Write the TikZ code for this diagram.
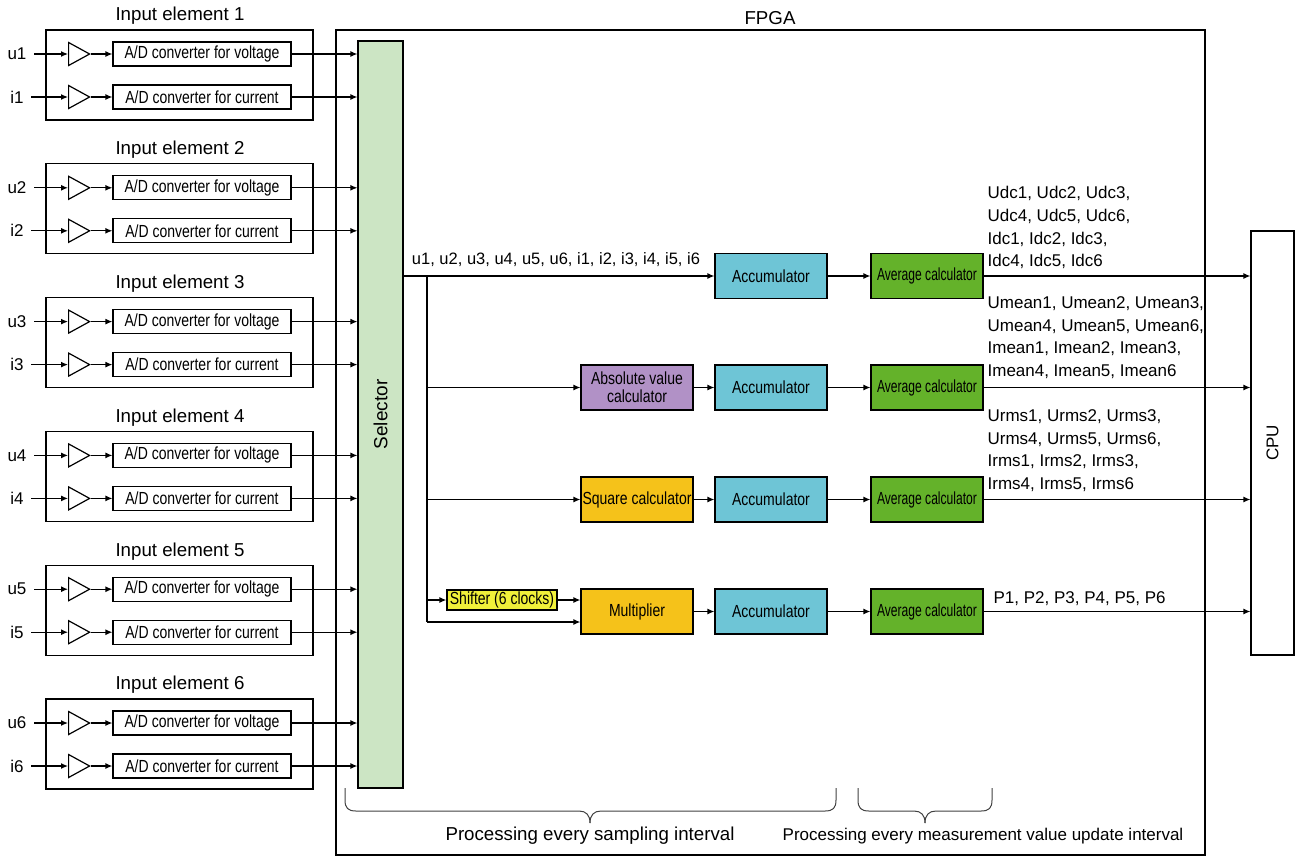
\documentclass[tikz,border=0pt]{standalone}
\usepackage{fontspec}
\setmainfont{Liberation Sans}
\newfontfamily\cond[FakeStretch=0.8]{Liberation Sans}
\newfontfamily\condb[FakeStretch=0.69]{Liberation Sans}
\usetikzlibrary{arrows.meta,shapes.geometric,calc}
\definecolor{selc}{HTML}{CCE5C4}
\definecolor{accc}{HTML}{6EC5D6}
\definecolor{avgc}{HTML}{64B22A}
\definecolor{absc}{HTML}{B191C6}
\definecolor{sqc}{HTML}{F5C21A}
\definecolor{shc}{HTML}{F0F03A}
\begin{document}
\begin{tikzpicture}[x=1pt,y=-1pt,line width=1.2pt,
  >={Latex[length=7pt,width=6pt]},
  ttl/.style={font=\fontsize{18.7}{20}\selectfont,inner sep=0pt},
  txt/.style={font=\fontsize{17}{19}\selectfont,inner sep=0pt},
  outl/.style={font=\fontsize{17}{22.6}\selectfont,align=left,inner sep=0pt,anchor=north west},
  elembox/.style={draw,minimum width=267pt,minimum height=90pt,inner sep=0pt},
  amp/.style={draw,fill=white,isosceles triangle,isosceles triangle stretches,minimum width=23pt,minimum height=21pt,inner sep=0pt,anchor=lower side},
  adc/.style={draw,minimum width=178pt,minimum height=24pt,inner sep=0pt,font=\cond\fontsize{17.5}{19}\selectfont},
  blk/.style={draw,minimum width=112pt,minimum height=45pt,inner sep=0pt,align=center,font=\cond\fontsize{17.5}{19}\selectfont},
  brace/.style={line width=1pt,draw=black!75}
  ]
\useasboundingbox (0,0) rectangle (1295,855);

% FPGA frame
\node[draw,minimum width=869pt,minimum height=825pt,inner sep=0pt] (fpga) at (770.5,442.5) {};
\node[ttl] (fpgat) at (770,18) {FPGA};

% selector
\node[draw,fill=selc,minimum width=45pt,minimum height=747pt,inner sep=0pt] (sel) at (380.5,414.5) {};
\node[rotate=90,font=\fontsize{19}{21}\selectfont,inner sep=0pt] (selt) at (sel.center) {Selector};

% input elements
\foreach \k in {1,...,6}{
  \pgfmathsetmacro{\yo}{(\k-1)*133.8}
  \node[ttl] (title\k) at (180,16+\yo) {Input element \k};
  \node[elembox] (elem\k) at (179.5,75+\yo) {};
  \foreach \s/\t/\dy in {u/voltage/54,i/current/97}{
    \node[txt] (lbl\s\k) at (17,\dy+\yo) {\s\k};
    \node[amp] (amp\s\k) at (68,\dy+\yo) {};
    \node[adc] (adc\s\k) at (202,\dy+\yo) {A/D converter for \t};
    \draw[->] ([xshift=7pt]lbl\s\k.east) -- (amp\s\k.lower side);
    \draw[->] (amp\s\k.apex) -- (adc\s\k.west);
    \draw[->] (adc\s\k.east) -- (adc\s\k.east -| sel.west);
  }
}

% processing blocks
\node[blk,fill=accc] (acc1) at (771,276) {Accumulator};
\node[blk,fill=accc] (acc2) at (771,387.5) {Accumulator};
\node[blk,fill=accc] (acc3) at (771,499.5) {Accumulator};
\node[blk,fill=accc] (acc4) at (771,611.5) {Accumulator};
\foreach \r/\yy in {1/276,2/387.5,3/499.5,4/611.5}{
  \node[blk,fill=avgc,font=\condb\fontsize{17.5}{19}\selectfont] (avg\r) at (927,\yy) {Average calculator};
}
\node[blk,fill=absc,font=\cond\fontsize{17.5}{18}\selectfont] (abs) at (637,387.5) {Absolute value\\calculator};
\node[blk,fill=sqc] (sq) at (637,499.5) {Square calculator};
\node[blk,fill=sqc] (mul) at (637,611.5) {Multiplier};
\node[draw,fill=shc,minimum width=110pt,minimum height=20pt,inner sep=0pt,font=\cond\fontsize{17.5}{19}\selectfont] (shift) at (502,600) {Shifter (6 clocks)};

% CPU
\node[draw,minimum width=43pt,minimum height=424pt,inner sep=0pt] (cpu) at (1272.5,443) {};
\node[rotate=90,font=\fontsize{17}{19}\selectfont,inner sep=0pt] (cput) at (cpu.center) {CPU};

% bus
\coordinate (j) at (427,276);
\coordinate (jb) at (427,622);
\draw[->] (sel.east |- acc1.west) -- (acc1.west);
\node[font=\fontsize{16.5}{18}\selectfont,inner sep=0pt] (busl) at (556,260) {u1, u2, u3, u4, u5, u6, i1, i2, i3, i4, i5, i6};
\draw (j) -- (jb);
\draw[->] (abs.west -| j) -- (abs.west);
\draw[->] (sq.west -| j) -- (sq.west);
\draw[->] (shift.west -| j) -- (shift.west);
\draw[->] (shift.east) -- (shift.east -| mul.west);
\draw[->] (jb) -- (jb -| mul.west);
\draw[->] (abs) -- (acc2);
\draw[->] (sq) -- (acc3);
\draw[->] (mul) -- (acc4);
\foreach \r in {1,...,4}{
  \draw[->] (acc\r) -- (avg\r);
  \draw[->] (avg\r.east) -- (avg\r.east -| cpu.west);
}

% output labels
\node[outl] (o1) at (987,186) {Udc1, Udc2, Udc3,\\Udc4, Udc5, Udc6,\\Idc1, Idc2, Idc3,\\Idc4, Idc5, Idc6};
\node[outl] (o2) at (987,296) {Umean1, Umean2, Umean3,\\Umean4, Umean5, Umean6,\\Imean1, Imean2, Imean3,\\Imean4, Imean5, Imean6};
\node[outl] (o3) at (987,409) {Urms1, Urms2, Urms3,\\Urms4, Urms5, Urms6,\\Irms1, Irms2, Irms3,\\Irms4, Irms5, Irms6};
\node[outl] (o4) at (993,591) {P1, P2, P3, P4, P5, P6};

% braces
\draw[brace] (345,788) -- (345,800) .. controls (345,808) and (348,811) .. (356,811) -- (579,811) .. controls (586,811) and (590,815) .. (590,823);
\draw[brace] (836,788) -- (836,800) .. controls (836,808) and (833,811) .. (825,811) -- (601,811) .. controls (594,811) and (590,815) .. (590,823);
\draw[brace] (858,788) -- (858,800) .. controls (858,808) and (861,811) .. (869,811) -- (914,811) .. controls (921,811) and (925,815) .. (925,823);
\draw[brace] (992,788) -- (992,800) .. controls (992,808) and (989,811) .. (981,811) -- (936,811) .. controls (929,811) and (925,815) .. (925,823);
\node[font=\fontsize{18.7}{20}\selectfont,inner sep=0pt] (p1) at (590,836) {Processing every sampling interval};
\node[font=\fontsize{17}{19}\selectfont,inner sep=0pt] (p2) at (983,836) {Processing every measurement value update interval};
\end{tikzpicture}
\end{document}
